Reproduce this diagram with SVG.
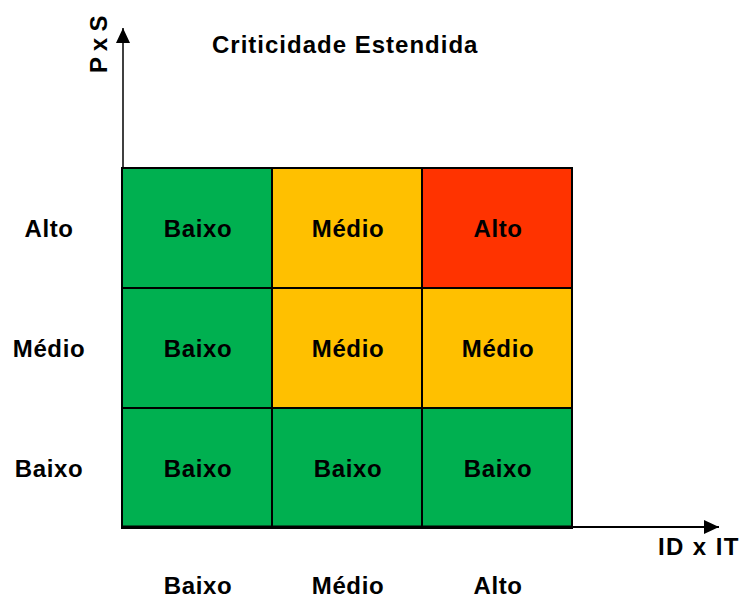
<svg xmlns="http://www.w3.org/2000/svg" width="742" height="600" viewBox="0 0 742 600">
<style>
text{font-family:"Liberation Sans",Arial,sans-serif;font-weight:bold;font-size:24px;fill:#000;letter-spacing:0.6px}
.c{text-anchor:middle}
.cell{stroke:#000;stroke-width:2}
.g{fill:#00B050}.o{fill:#FFC000}.r{fill:#FF3300}
.ax{stroke:#000;fill:none}
</style>
<defs>
<marker id="ah" markerWidth="15" markerHeight="14" refX="15" refY="7" orient="auto" markerUnits="userSpaceOnUse">
<path d="M0,0 L15,7 L0,14 Z" fill="#000"/>
</marker>
</defs>
<rect width="742" height="600" fill="#fff"/>
<text id="title" x="212" y="53" textLength="266" lengthAdjust="spacing">Criticidade Estendida</text>
<g id="cells">
<g id="c11"><rect class="cell g" x="122" y="168" width="150" height="120"/><text class="c" x="198" y="237">Baixo</text></g>
<g id="c12"><rect class="cell o" x="272" y="168" width="150" height="120"/><text class="c" x="348" y="237">Médio</text></g>
<g id="c13"><rect class="cell r" x="422" y="168" width="150" height="120"/><text class="c" x="498" y="237">Alto</text></g>
<g id="c21"><rect class="cell g" x="122" y="288" width="150" height="120"/><text class="c" x="198" y="357">Baixo</text></g>
<g id="c22"><rect class="cell o" x="272" y="288" width="150" height="120"/><text class="c" x="348" y="357">Médio</text></g>
<g id="c23"><rect class="cell o" x="422" y="288" width="150" height="120"/><text class="c" x="498" y="357">Médio</text></g>
<g id="c31"><rect class="cell g" x="122" y="408" width="150" height="120"/><text class="c" x="198" y="477">Baixo</text></g>
<g id="c32"><rect class="cell g" x="272" y="408" width="150" height="120"/><text class="c" x="348" y="477">Baixo</text></g>
<g id="c33"><rect class="cell g" x="422" y="408" width="150" height="120"/><text class="c" x="498" y="477">Baixo</text></g>
</g>
<g id="connectors">
<line class="ax" x1="123" y1="168" x2="123" y2="28" stroke-width="1.5" marker-end="url(#ah)"/>
<line class="ax" x1="122" y1="527" x2="719" y2="527" stroke-width="2" marker-end="url(#ah)"/>
<line class="ax" x1="122" y1="527" x2="572" y2="527" stroke-width="3"/>
</g>
<g id="axis-labels">
<text x="107" y="73" textLength="58" lengthAdjust="spacing" transform="rotate(-90 107 73)">P x S</text>
<text x="658" y="555" textLength="81" lengthAdjust="spacing">ID x IT</text>
<text class="c" x="49" y="237">Alto</text>
<text class="c" x="49" y="357">Médio</text>
<text class="c" x="49" y="477">Baixo</text>
<text class="c" x="198" y="594">Baixo</text>
<text class="c" x="348" y="594">Médio</text>
<text class="c" x="498" y="594">Alto</text>
</g>
</svg>
